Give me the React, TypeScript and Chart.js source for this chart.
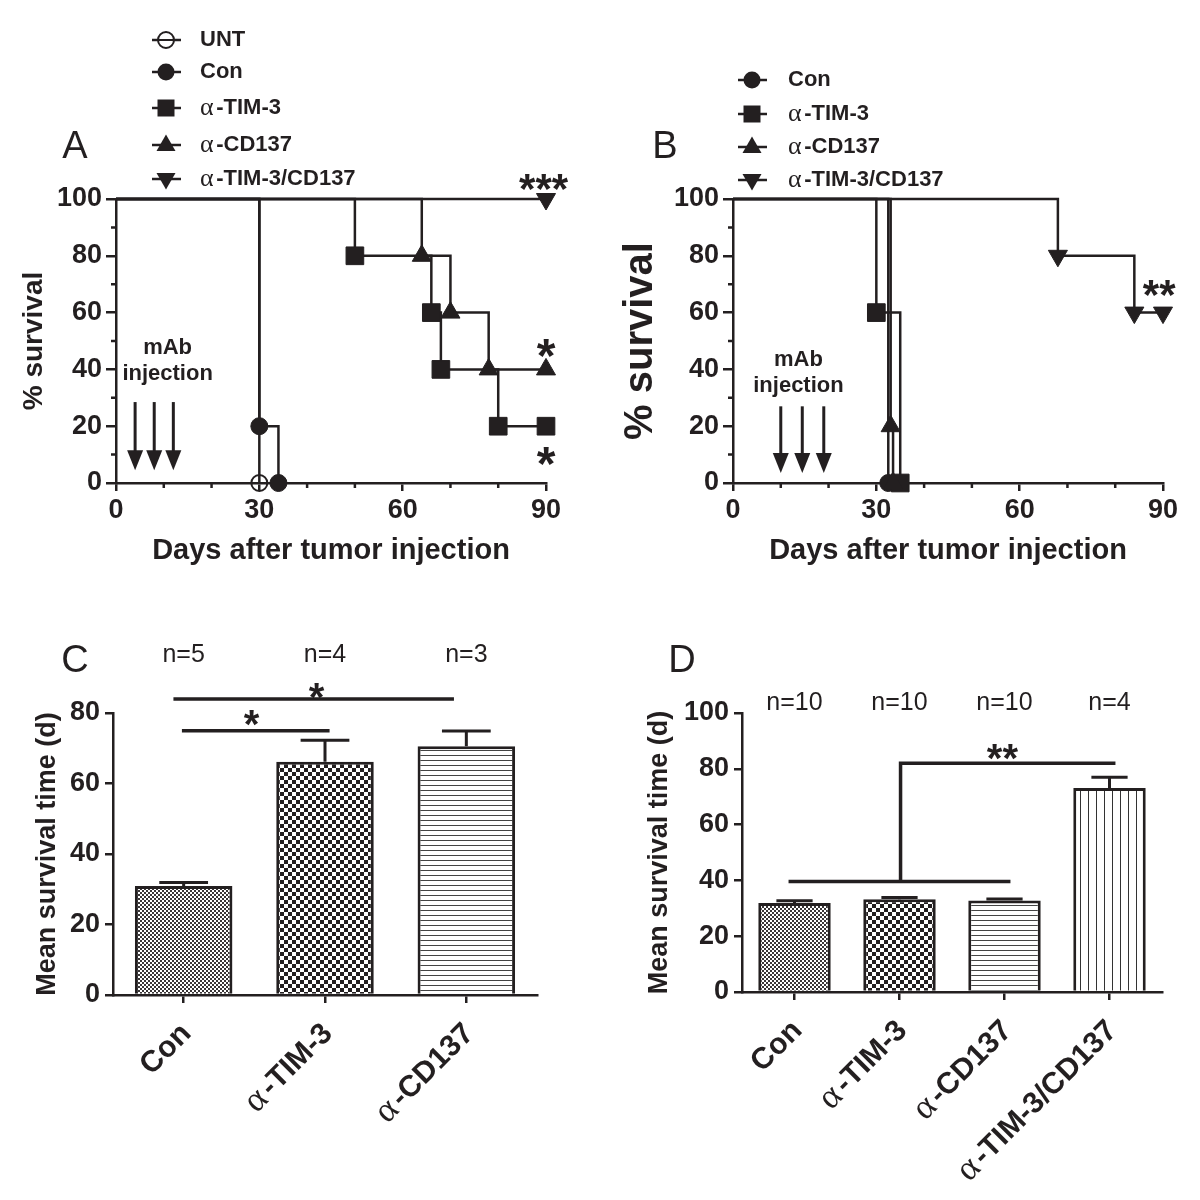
import React, { useEffect, useRef } from 'react';
import { Chart, registerables } from 'chart.js';

Chart.register(...registerables);

const INK = '#231f20';
const SANS = '"Liberation Sans", Arial, Helvetica, sans-serif';
const SERIF = '"Liberation Serif", "Times New Roman", serif';
Chart.defaults.font.family = SANS;
Chart.defaults.color = INK;

// ================= Panel A (Kaplan-Meier) =================
const A_NAMES = ['UNT', 'Con', 'α-TIM-3', 'α-CD137', 'α-TIM-3/CD137'];
const A_UNT_DAYS = [0, 30];
const A_UNT_SURV = [100, 0];
const A_CON_DAYS = [0, 30, 34];
const A_CON_SURV = [100, 20, 0];
const A_TIM3_DAYS = [0, 50, 66, 68, 80, 90];
const A_TIM3_SURV = [100, 80, 60, 40, 20, 20];
const A_CD137_DAYS = [0, 64, 70, 78, 90];
const A_CD137_SURV = [100, 80, 60, 40, 40];
const A_COMBO_DAYS = [0, 90];
const A_COMBO_SURV = [100, 100];
const A_MAB_DAYS = [4, 8, 12];
const A_STARS = [
  { day: 89.5, pct: 107, text: '***', size: 42 },
  { day: 90, pct: 48.5, text: '*', size: 48 },
  { day: 90, pct: 10.5, text: '*', size: 48 },
];

// ================= Panel B (Kaplan-Meier) =================
const B_NAMES = ['Con', 'α-TIM-3', 'α-CD137', 'α-TIM-3/CD137'];
const B_CON_DAYS = [0, 32.5];
const B_CON_SURV = [100, 0];
const B_TIM3_DAYS = [0, 30, 35];
const B_TIM3_SURV = [100, 60, 0];
const B_CD137_DAYS = [0, 33, 33.5];
const B_CD137_SURV = [100, 20, 0];
const B_COMBO_DAYS = [0, 68, 84, 90];
const B_COMBO_SURV = [100, 80, 60, 60];
const B_MAB_DAYS = [10, 14.5, 19];
const B_STARS = [{ day: 89.2, pct: 69.5, text: '**', size: 42 }];

// ================= Panel C (bars) =================
const C_GROUPS = ['Con', 'α-TIM-3', 'α-CD137'];
const C_MEANS = [30.9, 66.2, 70.6];
const C_SEM = [1.0, 6.1, 4.3];
const C_N = ['n=5', 'n=4', 'n=3'];
const C_SEGMENTS = [
  { x0: 0, y0: 75, x1: 1.02, y1: 75 },
  { x0: -0.06, y0: 84, x1: 1.9, y1: 84 },
];
const C_STARS = [
  { pos: 0.48, val: 79.4, text: '*', size: 40 },
  { pos: 0.94, val: 87.1, text: '*', size: 40 },
];

// ================= Panel D (bars) =================
const D_GROUPS = ['Con', 'α-TIM-3', 'α-CD137', 'α-TIM-3/CD137'];
const D_MEANS = [31.9, 33.2, 32.8, 73.1];
const D_SEM = [0.8, 0.7, 0.5, 3.9];
const D_N = ['n=10', 'n=10', 'n=10', 'n=4'];
const D_SEGMENTS = [
  { x0: -0.04, y0: 39.6, x1: 2.04, y1: 39.6 },
  { x0: 1.01, y0: 39.6, x1: 1.01, y1: 82 },
  { x0: 1.01, y0: 82, x1: 3.04, y1: 82 },
];
const D_STARS = [{ pos: 1.98, val: 86.8, text: '**', size: 40 }];

// ================= helpers =================
type Marker = 'open' | 'circle' | 'rect' | 'tri' | 'triDown';

const MARKER_STYLE: Record<Marker, any> = {
  open: { style: 'circle', radius: 8, rotation: 0, open: true },
  circle: { style: 'circle', radius: 8.5, rotation: 0, open: false },
  rect: { style: 'rect', radius: 12.5, rotation: 0, open: false },
  tri: { style: 'triangle', radius: 11, rotation: 0, open: false },
  triDown: { style: 'triangle', radius: 11, rotation: 180, open: false },
};

const GREEK_SCALE = 1.18;

function splitGreek(text: string): [string, string] {
  return text.startsWith('α') ? ['α', text.slice(1)] : ['', text];
}

function drawRichLeft(ctx: CanvasRenderingContext2D, text: string, x: number, y: number, size: number) {
  const [g, rest] = splitGreek(text);
  ctx.textAlign = 'left';
  ctx.textBaseline = 'middle';
  let cx = x;
  if (g) {
    ctx.font = `${size * GREEK_SCALE}px ${SERIF}`;
    ctx.fillText(g, cx, y);
    cx += ctx.measureText(g).width + size * 0.12;
  }
  ctx.font = `bold ${size}px ${SANS}`;
  ctx.fillText(rest, cx, y);
}

function drawRichRight(ctx: CanvasRenderingContext2D, text: string, x: number, y: number, size: number) {
  const [g, rest] = splitGreek(text);
  ctx.textAlign = 'right';
  ctx.textBaseline = 'middle';
  ctx.font = `bold ${size}px ${SANS}`;
  ctx.fillText(rest, x, y);
  if (g) {
    const w = ctx.measureText(rest).width + size * 0.12;
    ctx.font = `${size * GREEK_SCALE}px ${SERIF}`;
    ctx.fillText(g, x - w, y);
  }
}

function drawStars(ctx: CanvasRenderingContext2D, text: string, cx: number, cy: number, size: number) {
  ctx.font = `bold ${size}px ${SANS}`;
  ctx.textAlign = 'center';
  ctx.textBaseline = 'alphabetic';
  ctx.fillText(text, cx, cy + size * 0.565);
}

function drawLetter(ctx: CanvasRenderingContext2D, letter: any) {
  ctx.font = `38px ${SANS}`;
  ctx.textAlign = 'center';
  ctx.textBaseline = 'middle';
  ctx.fillStyle = INK;
  ctx.fillText(letter.text, letter.x, letter.y);
}

function drawLegendMarker(ctx: CanvasRenderingContext2D, m: Marker, x: number, y: number) {
  ctx.save();
  ctx.fillStyle = INK;
  ctx.strokeStyle = INK;
  ctx.lineWidth = 2;
  ctx.beginPath();
  if (m === 'open') {
    ctx.arc(x, y, 8, 0, Math.PI * 2);
    ctx.fillStyle = '#ffffff';
    ctx.fill();
    ctx.stroke();
    ctx.beginPath();
    ctx.moveTo(x - 8, y);
    ctx.lineTo(x + 8, y);
    ctx.stroke();
  } else if (m === 'circle') {
    ctx.arc(x, y, 8.5, 0, Math.PI * 2);
    ctx.fill();
  } else if (m === 'rect') {
    ctx.rect(x - 8.5, y - 8.5, 17, 17);
    ctx.fill();
  } else if (m === 'tri') {
    ctx.moveTo(x, y - 10.5);
    ctx.lineTo(x + 9.5, y + 6);
    ctx.lineTo(x - 9.5, y + 6);
    ctx.closePath();
    ctx.fill();
  } else {
    ctx.moveTo(x, y + 10.5);
    ctx.lineTo(x + 9.5, y - 6);
    ctx.lineTo(x - 9.5, y - 6);
    ctx.closePath();
    ctx.fill();
  }
  ctx.restore();
}

function makePattern(kind: string): any {
  const c = document.createElement('canvas');
  if (kind === 'fine') {
    c.width = 4; c.height = 4;
    const g = c.getContext('2d')!;
    g.fillStyle = '#ffffff'; g.fillRect(0, 0, 4, 4);
    g.fillStyle = '#3a3637'; g.fillRect(0, 0, 2, 2); g.fillRect(2, 2, 2, 2);
    return g.createPattern(c, 'repeat');
  }
  if (kind === 'checker') {
    c.width = 8; c.height = 8;
    const g = c.getContext('2d')!;
    g.fillStyle = '#ffffff'; g.fillRect(0, 0, 8, 8);
    g.fillStyle = INK; g.fillRect(0, 0, 4, 4); g.fillRect(4, 4, 4, 4);
    return g.createPattern(c, 'repeat');
  }
  if (kind === 'hlines') {
    c.width = 5; c.height = 5;
    const g = c.getContext('2d')!;
    g.fillStyle = '#ffffff'; g.fillRect(0, 0, 5, 5);
    g.fillStyle = '#444444'; g.fillRect(0, 0, 5, 1);
    return g.createPattern(c, 'repeat');
  }
  c.width = 8; c.height = 8;
  const g = c.getContext('2d')!;
  g.fillStyle = '#ffffff'; g.fillRect(0, 0, 8, 8);
  g.fillStyle = '#333333'; g.fillRect(0, 0, 1, 8);
  return g.createPattern(c, 'repeat');
}

// ================= panel configs (layout) =================
const PANEL_A = {
  series: [
    { name: A_NAMES[0], days: A_UNT_DAYS, surv: A_UNT_SURV, marker: 'open' as Marker },
    { name: A_NAMES[1], days: A_CON_DAYS, surv: A_CON_SURV, marker: 'circle' as Marker },
    { name: A_NAMES[2], days: A_TIM3_DAYS, surv: A_TIM3_SURV, marker: 'rect' as Marker },
    { name: A_NAMES[3], days: A_CD137_DAYS, surv: A_CD137_SURV, marker: 'tri' as Marker },
    { name: A_NAMES[4], days: A_COMBO_DAYS, surv: A_COMBO_SURV, marker: 'triDown' as Marker },
  ],
  mab: { days: A_MAB_DAYS, top: 28.5, tip: 4.5, textDay: 10.8, textPct: 47.5 },
  stars: A_STARS,
  legend: { rows: [40, 72, 108, 145, 179], markerX: 166, textX: 200, size: 22 },
  letter: { text: 'A', x: 75, y: 148 },
  area: { left: 116, right: 546, top: 199, bottom: 483 },
  yTitleSize: 28,
  yTitlePad: 17,
};

const PANEL_B = {
  series: [
    { name: B_NAMES[0], days: B_CON_DAYS, surv: B_CON_SURV, marker: 'circle' as Marker },
    { name: B_NAMES[1], days: B_TIM3_DAYS, surv: B_TIM3_SURV, marker: 'rect' as Marker },
    { name: B_NAMES[2], days: B_CD137_DAYS, surv: B_CD137_SURV, marker: 'tri' as Marker },
    { name: B_NAMES[3], days: B_COMBO_DAYS, surv: B_COMBO_SURV, marker: 'triDown' as Marker },
  ],
  mab: { days: B_MAB_DAYS, top: 27, tip: 3.5, textDay: 13.7, textPct: 43.4 },
  stars: B_STARS,
  legend: { rows: [80, 114, 147, 180], markerX: 152, textX: 188, size: 22 },
  letter: { text: 'B', x: 65, y: 148 },
  area: { left: 133, right: 563, top: 199, bottom: 483 },
  yTitleSize: 40,
  yTitlePad: 17,
};

const PANEL_C = {
  groups: C_GROUPS, means: C_MEANS, sem: C_SEM, n: C_N,
  patterns: ['fine', 'checker', 'hlines'],
  segments: C_SEGMENTS, stars: C_STARS,
  yMax: 80, nY: 55,
  letter: { text: 'C', x: 75, y: 62 },
  area: { left: 113, right: 537, top: 113, bottom: 395 },
  yTitlePad: 31,
};

const PANEL_D = {
  groups: D_GROUPS, means: D_MEANS, sem: D_SEM, n: D_N,
  patterns: ['fine', 'checker', 'hlines', 'vlines'],
  segments: D_SEGMENTS, stars: D_STARS,
  yMax: 100, nY: 103,
  letter: { text: 'D', x: 82, y: 62 },
  area: { left: 142, right: 562, top: 113, bottom: 392 },
  yTitlePad: 43,
};

// ================= chart builders =================
function kmChart(canvas: HTMLCanvasElement, p: any): Chart {
  const area = p.area;
  const n = p.series.length;
  const datasets = p.series.map((s: any, idx: number) => {
    const ms = MARKER_STYLE[s.marker as Marker];
    return {
      label: s.name,
      data: s.days.map((d: number, i: number) => ({ x: d, y: s.surv[i] })),
      stepped: 'before',
      order: n - idx,
      borderColor: INK,
      borderWidth: 2.5,
      fill: false,
      clip: false,
      pointStyle: ms.style,
      pointRotation: ms.rotation,
      pointRadius: s.days.map((_: number, i: number) => (i === 0 ? 0 : ms.radius)),
      pointHoverRadius: 0,
      pointBackgroundColor: ms.open ? 'rgba(255,255,255,0)' : INK,
      pointBorderColor: INK,
      pointBorderWidth: ms.open ? 2 : 1,
    };
  });

  const decor = {
    id: 'kmDecor',
    beforeDatasetsDraw(chart: any) {
      const { ctx, chartArea: a } = chart;
      const xs = chart.scales.x;
      const ys = chart.scales.y;
      ctx.save();
      ctx.strokeStyle = INK;
      ctx.lineWidth = 2.5;
      ctx.beginPath();
      for (let v = ys.min; v <= ys.max; v += 10) {
        if (v % 20 !== 0) {
          const y = ys.getPixelForValue(v);
          ctx.moveTo(a.left - 5, y);
          ctx.lineTo(a.left, y);
        }
      }
      for (let v = xs.min; v <= xs.max; v += 10) {
        if (v % 30 !== 0) {
          const x = xs.getPixelForValue(v);
          ctx.moveTo(x, a.bottom);
          ctx.lineTo(x, a.bottom + 5);
        }
      }
      ctx.stroke();
      ctx.restore();
    },
    afterDatasetsDraw(chart: any) {
      const { ctx } = chart;
      const xs = chart.scales.x;
      const ys = chart.scales.y;
      ctx.save();
      ctx.fillStyle = INK;
      ctx.strokeStyle = INK;
      // mAb injection arrows
      for (const d of p.mab.days) {
        const x = xs.getPixelForValue(d);
        const y0 = ys.getPixelForValue(p.mab.top);
        const y1 = ys.getPixelForValue(p.mab.tip);
        ctx.lineWidth = 3;
        ctx.beginPath();
        ctx.moveTo(x, y0);
        ctx.lineTo(x, y1 - 15);
        ctx.stroke();
        ctx.beginPath();
        ctx.moveTo(x - 8, y1 - 20);
        ctx.lineTo(x + 8, y1 - 20);
        ctx.lineTo(x, y1);
        ctx.closePath();
        ctx.fill();
      }
      const tx = xs.getPixelForValue(p.mab.textDay);
      const ty = ys.getPixelForValue(p.mab.textPct);
      ctx.font = `bold 22px ${SANS}`;
      ctx.textAlign = 'center';
      ctx.textBaseline = 'middle';
      ctx.fillText('mAb', tx, ty);
      ctx.fillText('injection', tx, ty + 26);
      // significance stars
      for (const s of p.stars) {
        drawStars(ctx, s.text, xs.getPixelForValue(s.day), ys.getPixelForValue(s.pct), s.size);
      }
      // legend
      p.series.forEach((s: any, i: number) => {
        const y = p.legend.rows[i];
        const mx = p.legend.markerX;
        ctx.lineWidth = 2.5;
        ctx.beginPath();
        ctx.moveTo(mx - 14, y);
        ctx.lineTo(mx + 15, y);
        ctx.stroke();
        drawLegendMarker(ctx, s.marker, mx, y);
        ctx.fillStyle = INK;
        drawRichLeft(ctx, s.name, p.legend.textX, y, p.legend.size);
      });
      drawLetter(ctx, p.letter);
      ctx.restore();
    },
  };

  return new Chart(canvas, {
    type: 'line',
    data: { datasets },
    options: {
      responsive: false,
      animation: false,
      events: [],
      layout: { padding: { left: 0, top: area.top, right: 600 - area.right, bottom: 0 } },
      plugins: { legend: { display: false }, tooltip: { enabled: false } },
      scales: {
        x: {
          type: 'linear',
          min: 0,
          max: 90,
          afterFit: (s: any) => { s.height = 600 - area.bottom; },
          ticks: { stepSize: 30, font: { size: 27, weight: 'bold' }, color: INK, padding: 3, maxRotation: 0 },
          grid: { drawOnChartArea: false, drawTicks: true, tickLength: 8, color: INK, lineWidth: 2.5 },
          border: { display: true, color: INK, width: 2.5 },
          title: {
            display: true,
            text: 'Days after tumor injection',
            font: { size: 29, weight: 'bold' },
            color: INK,
            padding: { top: 0, bottom: 32 },
          },
        },
        y: {
          type: 'linear',
          min: 0,
          max: 100,
          afterFit: (s: any) => { s.width = area.left; },
          ticks: { stepSize: 20, font: { size: 27, weight: 'bold' }, color: INK, padding: 4 },
          grid: { drawOnChartArea: false, drawTicks: true, tickLength: 10, color: INK, lineWidth: 2.5 },
          border: { display: true, color: INK, width: 2.5 },
          title: {
            display: true,
            text: '% survival',
            font: { size: p.yTitleSize, weight: 'bold' },
            color: INK,
            padding: { top: p.yTitlePad, bottom: 0 },
          },
        },
      },
    } as any,
    plugins: [decor],
  });
}

function barChart(canvas: HTMLCanvasElement, p: any): Chart {
  const area = p.area;
  const patterns = p.patterns.map(makePattern);

  const decor = {
    id: 'barDecor',
    afterDatasetsDraw(chart: any) {
      const { ctx } = chart;
      const xs = chart.scales.x;
      const ys = chart.scales.y;
      const meta = chart.getDatasetMeta(0);
      ctx.save();
      ctx.fillStyle = INK;
      ctx.strokeStyle = INK;
      ctx.lineCap = 'butt';
      // error bars (upper SEM)
      p.means.forEach((m: number, i: number) => {
        const bar = meta.data[i];
        const x = xs.getPixelForValue(i);
        const yTop = ys.getPixelForValue(m);
        const yErr = ys.getPixelForValue(m + p.sem[i]);
        const cap = bar.width * 0.5;
        ctx.lineWidth = 3;
        ctx.beginPath();
        ctx.moveTo(x, yTop);
        ctx.lineTo(x, yErr);
        ctx.moveTo(x - cap / 2, yErr);
        ctx.lineTo(x + cap / 2, yErr);
        ctx.stroke();
      });
      // significance brackets
      ctx.lineWidth = 3.5;
      ctx.lineCap = 'square';
      ctx.beginPath();
      for (const s of p.segments) {
        ctx.moveTo(xs.getPixelForValue(s.x0), ys.getPixelForValue(s.y0));
        ctx.lineTo(xs.getPixelForValue(s.x1), ys.getPixelForValue(s.y1));
      }
      ctx.stroke();
      for (const s of p.stars) {
        drawStars(ctx, s.text, xs.getPixelForValue(s.pos), ys.getPixelForValue(s.val), s.size);
      }
      // n labels
      ctx.font = `25px ${SANS}`;
      ctx.textAlign = 'center';
      ctx.textBaseline = 'middle';
      p.n.forEach((t: string, i: number) => {
        ctx.fillText(t, xs.getPixelForValue(i), p.nY);
      });
      // rotated category labels
      const axisY = chart.chartArea.bottom;
      p.groups.forEach((g: string, i: number) => {
        const x = xs.getPixelForTick(i);
        ctx.save();
        ctx.translate(x + 3, axisY + 34);
        ctx.rotate(-Math.PI / 4);
        drawRichRight(ctx, g, 0, 0, 30);
        ctx.restore();
      });
      drawLetter(ctx, p.letter);
      ctx.restore();
    },
  };

  return new Chart(canvas, {
    type: 'bar',
    data: {
      labels: p.groups,
      datasets: [
        {
          label: 'Mean survival time',
          data: p.means,
          backgroundColor: patterns,
          borderColor: INK,
          borderWidth: 3,
          barPercentage: 0.69,
          categoryPercentage: 1,
        },
      ],
    },
    options: {
      responsive: false,
      animation: false,
      events: [],
      layout: { padding: { left: 0, top: area.top, right: 600 - area.right, bottom: 0 } },
      plugins: { legend: { display: false }, tooltip: { enabled: false } },
      scales: {
        x: {
          afterFit: (s: any) => { s.height = 600 - area.bottom; },
          ticks: { display: false },
          grid: { offset: false, drawOnChartArea: false, drawTicks: true, tickLength: 8, color: INK, lineWidth: 2.5 },
          border: { display: true, color: INK, width: 2.5 },
        },
        y: {
          min: 0,
          max: p.yMax,
          afterFit: (s: any) => { s.width = area.left; },
          ticks: { stepSize: 20, font: { size: 27, weight: 'bold' }, color: INK, padding: 5 },
          grid: { drawOnChartArea: false, drawTicks: true, tickLength: 8, color: INK, lineWidth: 2.5 },
          border: { display: true, color: INK, width: 2.5 },
          title: {
            display: true,
            text: 'Mean survival time (d)',
            font: { size: 27, weight: 'bold' },
            color: INK,
            padding: { top: p.yTitlePad, bottom: 0 },
          },
        },
      },
    } as any,
    plugins: [decor],
  });
}

export default function App() {
  const refA = useRef<HTMLCanvasElement | null>(null);
  const refB = useRef<HTMLCanvasElement | null>(null);
  const refC = useRef<HTMLCanvasElement | null>(null);
  const refD = useRef<HTMLCanvasElement | null>(null);

  useEffect(() => {
    const charts: Chart[] = [];
    if (refA.current) charts.push(kmChart(refA.current, PANEL_A));
    if (refB.current) charts.push(kmChart(refB.current, PANEL_B));
    if (refC.current) charts.push(barChart(refC.current, PANEL_C));
    if (refD.current) charts.push(barChart(refD.current, PANEL_D));
    return () => charts.forEach((c) => c.destroy());
  }, []);

  const pos = (left: number, top: number): React.CSSProperties => ({
    position: 'absolute', left, top, width: 600, height: 600,
  });

  return (
    <div style={{ position: 'absolute', left: 0, top: 0, width: 1200, height: 1200, background: '#ffffff', overflow: 'hidden' }}>
      <canvas ref={refA} width={600} height={600} style={pos(0, 0)} />
      <canvas ref={refB} width={600} height={600} style={pos(600, 0)} />
      <canvas ref={refC} width={600} height={600} style={pos(0, 600)} />
      <canvas ref={refD} width={600} height={600} style={pos(600, 600)} />
    </div>
  );
}
